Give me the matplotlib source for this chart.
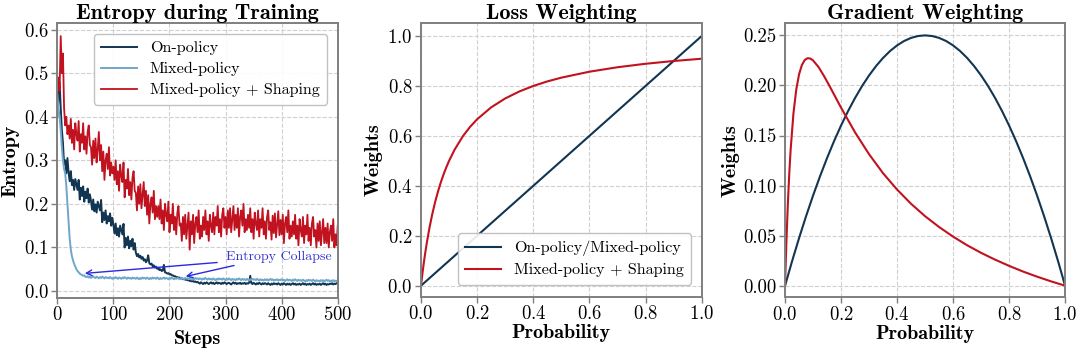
import numpy as np
import matplotlib
matplotlib.use("Agg")
import matplotlib.pyplot as plt

plt.rcParams['font.family'] = ['cmr10', 'DejaVu Serif']
plt.rcParams['axes.formatter.use_mathtext'] = True
plt.rcParams['mathtext.fontset'] = 'cm'

# ---------------- data ----------------
step_size = 2

on_policy = [
    0.40, 0.44, 0.48, 0.42, 0.37, 0.34, 0.29, 0.30, 0.27, 0.305,
    0.272, 0.252, 0.275, 0.243, 0.255, 0.232, 0.257, 0.245, 0.232, 0.255,
    0.21, 0.237, 0.218, 0.24, 0.205, 0.228, 0.213, 0.235, 0.203, 0.222,
    0.207, 0.187, 0.21, 0.183, 0.199, 0.18, 0.205, 0.195, 0.185, 0.209,
    0.158, 0.18, 0.163, 0.185, 0.155, 0.172, 0.16, 0.178, 0.15, 0.168,
    0.152, 0.132, 0.155, 0.128, 0.144, 0.125, 0.15, 0.14, 0.13, 0.154,
    0.10, 0.122, 0.105, 0.125, 0.098, 0.115, 0.103, 0.12, 0.095, 0.11,
    0.088, 0.080, 0.085, 0.077, 0.081, 0.074, 0.078, 0.070, 0.073, 0.066,
    0.070, 0.082, 0.064, 0.061, 0.063, 0.057, 0.059, 0.054, 0.056, 0.051,
    0.053, 0.048, 0.050, 0.046, 0.047, 0.060, 0.043, 0.042, 0.040, 0.041,
    0.038, 0.039, 0.036, 0.036, 0.034, 0.034, 0.032, 0.032, 0.030, 0.031,
    0.029, 0.029, 0.027, 0.028, 0.026, 0.026, 0.025, 0.025, 0.023, 0.024,
    0.022, 0.023, 0.021, 0.022, 0.020, 0.021,
    0.019, 0.017, 0.020, 0.018, 0.016, 0.019, 0.017, 0.020, 0.018, 0.016,
    0.018, 0.020, 0.017, 0.019, 0.016, 0.018, 0.020, 0.017, 0.019, 0.018,
    0.016, 0.019, 0.017, 0.020, 0.018, 0.016, 0.018, 0.019, 0.017, 0.015,
    0.018, 0.020, 0.017, 0.019, 0.016, 0.018, 0.017, 0.019, 0.016, 0.018,
    0.017, 0.019, 0.016, 0.018, 0.017, 0.019, 0.035, 0.018, 0.016, 0.019,
    0.017, 0.015, 0.018, 0.016, 0.019, 0.017, 0.015, 0.018, 0.016, 0.018,
    0.017, 0.015, 0.018, 0.016, 0.014, 0.017, 0.015, 0.018, 0.016, 0.017,
    0.015, 0.018, 0.016, 0.014, 0.017, 0.015, 0.018, 0.016, 0.014, 0.017,
    0.015, 0.017, 0.014, 0.016, 0.018, 0.015, 0.017, 0.014, 0.016, 0.015,
    0.017, 0.014, 0.016, 0.018, 0.015, 0.017, 0.014, 0.016, 0.015, 0.017,
    0.014, 0.016, 0.018, 0.015, 0.017, 0.014, 0.016, 0.015, 0.017, 0.014,
    0.016, 0.018, 0.015, 0.017, 0.014, 0.016, 0.015, 0.017, 0.016, 0.018,
    0.015, 0.017, 0.016, 0.018, 0.017,
]

mixed_policy = [
    0.45, 0.42, 0.40, 0.37, 0.33, 0.30, 0.28, 0.27, 0.24, 0.20,
    0.16, 0.12, 0.095, 0.08, 0.07, 0.062, 0.056, 0.05, 0.046, 0.043,
    0.04, 0.038, 0.037, 0.035, 0.036, 0.033,
    0.032, 0.034, 0.031, 0.033, 0.030, 0.032, 0.034, 0.031, 0.030, 0.033,
    0.031, 0.029, 0.032, 0.030, 0.033, 0.031, 0.029, 0.032, 0.030, 0.031,
    0.029, 0.032, 0.030, 0.028, 0.031, 0.029, 0.032, 0.030, 0.028, 0.031,
    0.030, 0.028, 0.031, 0.029, 0.032, 0.030, 0.028, 0.031, 0.029, 0.030,
    0.028, 0.031, 0.029, 0.030, 0.028, 0.031, 0.029, 0.027, 0.030, 0.028,
    0.031, 0.029, 0.030, 0.028, 0.031, 0.029, 0.027, 0.030, 0.028, 0.031,
    0.029, 0.030, 0.028, 0.031, 0.029, 0.027, 0.030, 0.028, 0.029, 0.031,
    0.028, 0.030, 0.029, 0.027, 0.030, 0.028, 0.031, 0.029, 0.027, 0.030,
    0.028, 0.030, 0.029, 0.027, 0.030, 0.028, 0.029, 0.027, 0.030, 0.028,
    0.029, 0.027, 0.030, 0.028, 0.026, 0.029, 0.027, 0.030, 0.028, 0.029,
    0.027, 0.029, 0.028, 0.026, 0.029, 0.027, 0.030, 0.028, 0.026, 0.029,
    0.027, 0.028, 0.026, 0.029, 0.027, 0.025, 0.028, 0.026, 0.029, 0.027,
    0.028, 0.026, 0.029, 0.027, 0.025, 0.028, 0.026, 0.029, 0.027, 0.025,
    0.028, 0.026, 0.027, 0.025, 0.028, 0.026, 0.029, 0.027, 0.025, 0.028,
    0.026, 0.027, 0.025, 0.028, 0.026, 0.024, 0.027, 0.025, 0.028, 0.026,
    0.027, 0.025, 0.028, 0.026, 0.024, 0.027, 0.025, 0.026, 0.024, 0.027,
    0.025, 0.027, 0.024, 0.026, 0.028, 0.025, 0.027, 0.024, 0.026, 0.025,
    0.027, 0.024, 0.026, 0.025, 0.027, 0.024, 0.026, 0.023, 0.025, 0.027,
    0.024, 0.026, 0.025, 0.023, 0.026, 0.024, 0.027, 0.025, 0.023, 0.026,
    0.024, 0.025, 0.023, 0.026, 0.024, 0.022, 0.025, 0.023, 0.026, 0.024,
    0.025, 0.023, 0.026, 0.024, 0.022, 0.025, 0.023, 0.024, 0.022, 0.025,
    0.023, 0.025, 0.022, 0.024, 0.026, 0.023, 0.025, 0.022, 0.024, 0.023,
    0.025, 0.022, 0.024, 0.023, 0.024,
]

mixed_shaping = [
    0.45, 0.49, 0.46, 0.585, 0.50, 0.545, 0.42, 0.38, 0.40, 0.36,
    0.38, 0.35, 0.395, 0.34, 0.37, 0.325, 0.385, 0.36, 0.345, 0.39,
    0.32, 0.36, 0.34, 0.385, 0.325, 0.355, 0.315, 0.365, 0.38, 0.335,
    0.33, 0.29, 0.345, 0.305, 0.35, 0.295, 0.325, 0.365, 0.30, 0.335,
    0.275, 0.32, 0.255, 0.30, 0.315, 0.28, 0.33, 0.265, 0.295, 0.27,
    0.285, 0.255, 0.30, 0.245, 0.275, 0.23, 0.29, 0.265, 0.25, 0.295,
    0.215, 0.255, 0.235, 0.28, 0.22, 0.25, 0.21, 0.26, 0.275, 0.23,
    0.225, 0.185, 0.24, 0.20, 0.245, 0.19, 0.22, 0.25, 0.195, 0.23,
    0.175, 0.22, 0.155, 0.20, 0.215, 0.18, 0.23, 0.165, 0.195, 0.17,
    0.195, 0.165, 0.21, 0.155, 0.185, 0.14, 0.20, 0.175, 0.16, 0.205,
    0.135, 0.175, 0.155, 0.20, 0.14, 0.17, 0.13, 0.18, 0.195, 0.15,
    0.155, 0.115, 0.17, 0.13, 0.175, 0.12, 0.15, 0.18, 0.095, 0.16,
    0.13, 0.175, 0.11, 0.155, 0.17, 0.135, 0.185, 0.12, 0.15, 0.125,
    0.17, 0.14, 0.185, 0.13, 0.16, 0.115, 0.175, 0.15, 0.135, 0.18,
    0.13, 0.17, 0.15, 0.195, 0.135, 0.165, 0.125, 0.175, 0.19, 0.145,
    0.17, 0.13, 0.185, 0.145, 0.19, 0.135, 0.165, 0.195, 0.14, 0.175,
    0.145, 0.19, 0.125, 0.17, 0.185, 0.15, 0.20, 0.135, 0.165, 0.14,
    0.175, 0.145, 0.19, 0.135, 0.165, 0.12, 0.18, 0.155, 0.14, 0.185,
    0.125, 0.165, 0.145, 0.19, 0.13, 0.16, 0.12, 0.17, 0.185, 0.14,
    0.158, 0.118, 0.173, 0.133, 0.178, 0.123, 0.153, 0.183, 0.128, 0.163,
    0.13, 0.175, 0.11, 0.155, 0.17, 0.135, 0.185, 0.12, 0.15, 0.125,
    0.16, 0.13, 0.175, 0.12, 0.15, 0.105, 0.165, 0.14, 0.125, 0.17,
    0.11, 0.15, 0.13, 0.175, 0.115, 0.145, 0.105, 0.155, 0.17, 0.125,
    0.14, 0.10, 0.155, 0.115, 0.16, 0.105, 0.135, 0.165, 0.11, 0.145,
    0.11, 0.155, 0.10, 0.135, 0.15, 0.115, 0.165, 0.10, 0.13, 0.105,
    0.15,
]

# Loss weighting
prob_loss = [0.0, 0.005, 0.01, 0.015, 0.02, 0.03, 0.04, 0.05, 0.06, 0.07,
             0.08, 0.09, 0.10, 0.12, 0.15, 0.175, 0.20, 0.25, 0.30, 0.35,
             0.40, 0.45, 0.50, 0.60, 0.70, 0.80, 0.90, 1.00]
loss_shaping = [0.0, 0.0476, 0.0909, 0.1304, 0.1667, 0.2308, 0.2857, 0.3333,
                0.3750, 0.4118, 0.4444, 0.4737, 0.5000, 0.5455, 0.6000, 0.6364,
                0.6667, 0.7143, 0.7500, 0.7778, 0.8000, 0.8182, 0.8333, 0.8571,
                0.8750, 0.8889, 0.9000, 0.9091]
prob_linear = [0.0, 1.0]
loss_linear = [0.0, 1.0]

# Gradient weighting
prob_grad_base = [0.0, 0.025, 0.05, 0.075, 0.1, 0.125, 0.15, 0.175, 0.2, 0.225,
                  0.25, 0.275, 0.3, 0.325, 0.35, 0.375, 0.4, 0.425, 0.45, 0.475,
                  0.5, 0.525, 0.55, 0.575, 0.6, 0.625, 0.65, 0.675, 0.7, 0.725,
                  0.75, 0.775, 0.8, 0.825, 0.85, 0.875, 0.9, 0.925, 0.95, 0.975, 1.0]
grad_base = [0.0, 0.024375, 0.0475, 0.069375, 0.09, 0.109375, 0.1275, 0.144375,
             0.16, 0.174375, 0.1875, 0.199375, 0.21, 0.219375, 0.2275, 0.234375,
             0.24, 0.244375, 0.2475, 0.249375, 0.25, 0.249375, 0.2475, 0.244375,
             0.24, 0.234375, 0.2275, 0.219375, 0.21, 0.199375, 0.1875, 0.174375,
             0.16, 0.144375, 0.1275, 0.109375, 0.09, 0.069375, 0.0475, 0.024375, 0.0]
prob_grad_shaping = [0.0, 0.002, 0.005, 0.01, 0.015, 0.02, 0.03, 0.04, 0.05, 0.06,
                     0.07, 0.08, 0.09, 0.10, 0.12, 0.14, 0.16, 0.18, 0.20, 0.25,
                     0.30, 0.35, 0.40, 0.45, 0.50, 0.55, 0.60, 0.65, 0.70, 0.75,
                     0.80, 0.85, 0.90, 0.95, 1.0]
grad_shaping = [0.0, 0.0192, 0.0451, 0.0818, 0.1117, 0.1361, 0.1722, 0.1959, 0.2111,
                0.2203, 0.2253, 0.2272, 0.2269, 0.2250, 0.2182, 0.2090, 0.1988,
                0.1883, 0.1778, 0.1531, 0.1313, 0.1123, 0.0960, 0.0818, 0.0694,
                0.0586, 0.0490, 0.0404, 0.0328, 0.0260, 0.0198, 0.0141, 0.0090,
                0.0043, 0.0]

# ---------------- style ----------------
c_dark = '#123552'
c_light = '#6fa6c9'
c_red = '#c1121f'
spine_c = '#7f7f7f'
grid_kw = dict(color='#d0d0d0', linestyle='--', linewidth=0.8)
bold = ['cmb10', 'DejaVu Serif']
title_fs = 16
label_fs = 14.5
tick_fs = 13.5
legend_fs = 11.6

fig = plt.figure(figsize=(10.8, 3.53), dpi=100)
ax1 = fig.add_axes([0.0531, 0.1558, 0.2596, 0.779])
ax2 = fig.add_axes([0.3898, 0.1595, 0.2599, 0.7745])
ax3 = fig.add_axes([0.7269, 0.1578, 0.2593, 0.776])


def style(ax):
    for s in ax.spines.values():
        s.set_color(spine_c)
        s.set_linewidth(1.4)
    ax.tick_params(direction='out', length=4, width=1, color=spine_c,
                   labelsize=tick_fs, pad=2)
    ax.grid(True, **grid_kw)
    ax.set_axisbelow(True)


# Panel 1
x_on = np.arange(len(on_policy)) * step_size
x_mix = np.arange(len(mixed_policy)) * step_size
x_sh = np.arange(len(mixed_shaping)) * step_size
ax1.plot(x_on, on_policy, color=c_dark, lw=1.4, label='On-policy')
ax1.plot(x_mix, mixed_policy, color=c_light, lw=1.4, label='Mixed-policy')
ax1.plot(x_sh, mixed_shaping, color=c_red, lw=1.3, label='Mixed-policy + Shaping')
ax1.set_xlim(0, 500)
ax1.set_ylim(-0.016, 0.615)
ax1.set_xticks([0, 100, 200, 300, 400, 500])
ax1.set_yticks([0.0, 0.1, 0.2, 0.3, 0.4, 0.5, 0.6])
style(ax1)
ax1.set_title('Entropy during Training', fontfamily=bold, fontsize=title_fs, pad=3)
ax1.set_xlabel('Steps', fontfamily=bold, fontsize=label_fs, labelpad=4)
ax1.set_ylabel('Entropy', fontfamily=bold, fontsize=label_fs, labelpad=3)
leg1 = ax1.legend(loc='upper right', fontsize=legend_fs, frameon=True, fancybox=True,
                  handlelength=2.2, borderpad=0.45, labelspacing=0.42,
                  bbox_to_anchor=(0.99, 0.99))
leg1.get_frame().set_edgecolor('#bbbbbb')
leg1.get_frame().set_alpha(0.9)

ax1.text(301, 0.078, 'Entropy Collapse', color='#3535d0', fontsize=10,
         va='center', ha='left')
ax1.annotate('', xy=(44, 0.040), xytext=(290, 0.066),
             arrowprops=dict(arrowstyle='->', color='#2a2ae0', lw=1.0))
ax1.annotate('', xy=(224, 0.032), xytext=(320, 0.060),
             arrowprops=dict(arrowstyle='->', color='#2a2ae0', lw=1.0))

# Panel 2
ax2.plot(prob_linear, loss_linear, color=c_dark, lw=1.5, label='On-policy/Mixed-policy')
ax2.plot(prob_loss, loss_shaping, color=c_red, lw=1.5, label='Mixed-policy + Shaping')
ax2.set_xlim(0, 1)
ax2.set_ylim(-0.044, 1.051)
ax2.set_xticks([0.0, 0.2, 0.4, 0.6, 0.8, 1.0])
ax2.set_yticks([0.0, 0.2, 0.4, 0.6, 0.8, 1.0])
style(ax2)
ax2.set_title('Loss Weighting', fontfamily=bold, fontsize=title_fs, pad=3)
ax2.set_xlabel('Probability', fontfamily=bold, fontsize=label_fs, labelpad=1)
ax2.set_ylabel('Weights', fontfamily=bold, fontsize=label_fs, labelpad=3)
leg2 = ax2.legend(loc='lower right', fontsize=legend_fs, frameon=True, fancybox=True,
                  handlelength=2.2, borderpad=0.45, labelspacing=0.42,
                  bbox_to_anchor=(0.99, 0.015))
leg2.get_frame().set_edgecolor('#bbbbbb')
leg2.get_frame().set_alpha(0.9)

# Panel 3
ax3.plot(prob_grad_base, grad_base, color=c_dark, lw=1.5)
ax3.plot(prob_grad_shaping, grad_shaping, color=c_red, lw=1.5)
ax3.set_xlim(0, 1)
ax3.set_ylim(-0.0116, 0.262)
ax3.set_xticks([0.0, 0.2, 0.4, 0.6, 0.8, 1.0])
ax3.set_yticks([0.0, 0.05, 0.10, 0.15, 0.20, 0.25])
ax3.set_yticklabels(['0.00', '0.05', '0.10', '0.15', '0.20', '0.25'])
style(ax3)
ax3.set_title('Gradient Weighting', fontfamily=bold, fontsize=title_fs, pad=3)
ax3.set_xlabel('Probability', fontfamily=bold, fontsize=label_fs, labelpad=1)
ax3.set_ylabel('Weights', fontfamily=bold, fontsize=label_fs, labelpad=3)

fig.savefig('out.png', dpi=100)
